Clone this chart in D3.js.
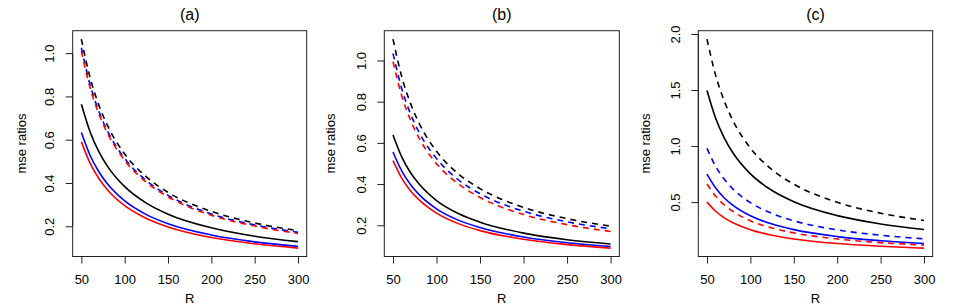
<!DOCTYPE html>
<html>
<head>
<meta charset="utf-8">
<script src="https://cdn.jsdelivr.net/npm/d3@7"></script>
<style>
	body { margin: 0; background: #fff; }
	text { font-family: "Liberation Sans", Arial, sans-serif; fill: #000; }
</style>
</head>
<body>
<div id="chart"></div>
<script>
// Sample sizes R along the x axis
var rValues = [50, 60, 70, 80, 100, 125, 150, 200, 250, 300];
var xTicks = [50, 100, 150, 200, 250, 300];

// Panel (a)
var aBlackSolid  = [0.764, 0.637, 0.546, 0.478, 0.383, 0.307, 0.256, 0.193, 0.154, 0.129];
var aBlueSolid   = [0.633, 0.528, 0.453, 0.396, 0.317, 0.254, 0.212, 0.160, 0.128, 0.107];
var aRedSolid    = [0.590, 0.492, 0.422, 0.369, 0.295, 0.236, 0.197, 0.148, 0.119, 0.099];
var aBlackDashed = [1.065, 0.888, 0.762, 0.667, 0.534, 0.428, 0.357, 0.269, 0.215, 0.180];
var aBlueDashed  = [1.025, 0.855, 0.733, 0.641, 0.513, 0.411, 0.343, 0.257, 0.206, 0.172];
var aRedDashed   = [1.010, 0.841, 0.721, 0.631, 0.504, 0.403, 0.336, 0.251, 0.201, 0.167];
var aYTicks = [0.2, 0.4, 0.6, 0.8, 1.0];

// Panel (b)
var bBlackSolid  = [0.638, 0.532, 0.456, 0.400, 0.320, 0.257, 0.215, 0.162, 0.130, 0.109];
var bBlueSolid   = [0.556, 0.464, 0.398, 0.349, 0.280, 0.225, 0.189, 0.143, 0.115, 0.097];
var bRedSolid    = [0.514, 0.429, 0.368, 0.323, 0.259, 0.208, 0.174, 0.132, 0.106, 0.089];
var bBlackDashed = [1.104, 0.922, 0.793, 0.695, 0.559, 0.450, 0.378, 0.287, 0.232, 0.196];
var bBlueDashed  = [1.034, 0.864, 0.742, 0.651, 0.524, 0.421, 0.353, 0.268, 0.217, 0.183];
var bRedDashed   = [0.994, 0.829, 0.711, 0.623, 0.499, 0.401, 0.335, 0.252, 0.203, 0.170];
var bYTicks = [0.2, 0.4, 0.6, 0.8, 1.0];

// Panel (c)
var cBlackSolid  = [1.496, 1.248, 1.071, 0.938, 0.752, 0.603, 0.503, 0.379, 0.305, 0.255];
var cBlueSolid   = [0.750, 0.626, 0.537, 0.471, 0.378, 0.304, 0.254, 0.192, 0.155, 0.130];
var cRedSolid    = [0.500, 0.418, 0.359, 0.315, 0.254, 0.204, 0.171, 0.130, 0.106, 0.089];
var cBlackDashed = [1.955, 1.631, 1.400, 1.226, 0.983, 0.789, 0.660, 0.498, 0.401, 0.336];
var cBlueDashed  = [0.980, 0.818, 0.703, 0.616, 0.495, 0.398, 0.333, 0.252, 0.204, 0.172];
var cRedDashed   = [0.661, 0.552, 0.474, 0.416, 0.334, 0.269, 0.225, 0.171, 0.138, 0.116];
var cYTicks = [0.5, 1.0, 1.5, 2.0];

var panelTitles = ["(a)", "(b)", "(c)"];
var xLabel = "R";
var yLabel = "mse ratios";

(function(){

	var width = 968, height = 307;
	var labelFont = "13px";

	var boxes = [
		{ left: 72.7,  right: 306.7, ylab: 21.7 },
		{ left: 384.3, right: 619.3, ylab: 330 },
		{ left: 698.3, right: 932.7, ylab: 645 }
	];
	var top = 30.7, bottom = 256.5;

	var panels = [
		{ ticks: aYTicks, series: [
			[aBlackSolid, "#000", false], [aBlueSolid, "#0000ff", false], [aRedSolid, "#ff0000", false],
			[aBlackDashed, "#000", true], [aBlueDashed, "#0000ff", true], [aRedDashed, "#ff0000", true]] },
		{ ticks: bYTicks, series: [
			[bBlackSolid, "#000", false], [bBlueSolid, "#0000ff", false], [bRedSolid, "#ff0000", false],
			[bBlackDashed, "#000", true], [bBlueDashed, "#0000ff", true], [bRedDashed, "#ff0000", true]] },
		{ ticks: cYTicks, series: [
			[cBlackSolid, "#000", false], [cBlueSolid, "#0000ff", false], [cRedSolid, "#ff0000", false],
			[cBlackDashed, "#000", true], [cBlueDashed, "#0000ff", true], [cRedDashed, "#ff0000", true]] }
	];

	var svg = d3.select("#chart").append("svg")
		.attr("width", width)
		.attr("height", height);

	panels.forEach(function(panel, i){
		var box = boxes[i];

		// R style axis extension of 4% on each side
		var xr = d3.extent(rValues);
		var xPad = (xr[1] - xr[0]) * 0.04;
		var x = d3.scaleLinear()
			.domain([xr[0] - xPad, xr[1] + xPad])
			.range([box.left, box.right]);

		var all = [];
		panel.series.forEach(function(s){ all = all.concat(s[0]); });
		var yr = d3.extent(all);
		var yPad = (yr[1] - yr[0]) * 0.04;
		var y = d3.scaleLinear()
			.domain([yr[0] - yPad, yr[1] + yPad])
			.range([bottom, top]);

		var g = svg.append("g");

		var line = d3.line()
			.x(function(d, j){ return x(rValues[j]); })
			.y(function(d){ return y(d); })
			.curve(d3.curveMonotoneX);

		panel.series.forEach(function(s){
			g.append("path")
				.datum(s[0])
				.attr("d", line)
				.attr("fill", "none")
				.attr("stroke", s[1])
				.attr("stroke-width", 1.6)
				.attr("stroke-dasharray", s[2] ? "6,5" : null);
		});

		// frame
		g.append("rect")
			.attr("x", box.left)
			.attr("y", top)
			.attr("width", box.right - box.left)
			.attr("height", bottom - top)
			.attr("fill", "none")
			.attr("stroke", "#222")
			.attr("stroke-width", 1);

		// x axis
		var xAxis = d3.axisBottom(x)
			.tickValues(xTicks)
			.tickSize(7)
			.tickPadding(11)
			.tickFormat(d3.format("d"));
		var gx = g.append("g")
			.attr("transform", "translate(0," + bottom + ")")
			.call(xAxis);
		gx.select(".domain")
			.attr("d", "M" + x(xTicks[0]) + ",0H" + x(xTicks[xTicks.length - 1]))
			.attr("stroke", "#222");
		gx.selectAll(".tick line").attr("stroke", "#222");
		gx.selectAll("text")
			.style("font-size", labelFont)
			.style("font-family", "'Liberation Sans', Arial, sans-serif")
			.attr("fill", "#000");

		// y axis, labels parallel to the axis
		var yAxis = d3.axisLeft(y)
			.tickValues(panel.ticks)
			.tickSize(7)
			.tickFormat(d3.format(".1f"));
		var gy = g.append("g")
			.attr("transform", "translate(" + box.left + ",0)")
			.call(yAxis);
		var yt = panel.ticks;
		gy.select(".domain")
			.attr("d", "M0," + y(yt[0]) + "V" + y(yt[yt.length - 1]))
			.attr("stroke", "#222");
		gy.selectAll(".tick line").attr("stroke", "#222");
		gy.selectAll(".tick text")
			.attr("x", 0)
			.attr("dy", null)
			.attr("text-anchor", "middle")
			.attr("dominant-baseline", "central")
			.attr("transform", "translate(-23,0) rotate(-90)")
			.style("font-size", labelFont)
			.style("font-family", "'Liberation Sans', Arial, sans-serif")
			.attr("fill", "#000");

		// titles and axis labels
		g.append("text")
			.attr("x", (box.left + box.right) / 2)
			.attr("y", 14)
			.attr("text-anchor", "middle")
			.attr("dominant-baseline", "central")
			.style("font-size", "16px")
			.text(panelTitles[i]);

		g.append("text")
			.attr("x", (box.left + box.right) / 2)
			.attr("y", 298)
			.attr("text-anchor", "middle")
			.attr("dominant-baseline", "central")
			.style("font-size", labelFont)
			.text(xLabel);

		g.append("text")
			.attr("transform", "translate(" + box.ylab + "," + ((top + bottom) / 2) + ") rotate(-90)")
			.attr("text-anchor", "middle")
			.attr("dominant-baseline", "central")
			.style("font-size", labelFont)
			.text(yLabel);
	});

})();
</script>
</body>
</html>
